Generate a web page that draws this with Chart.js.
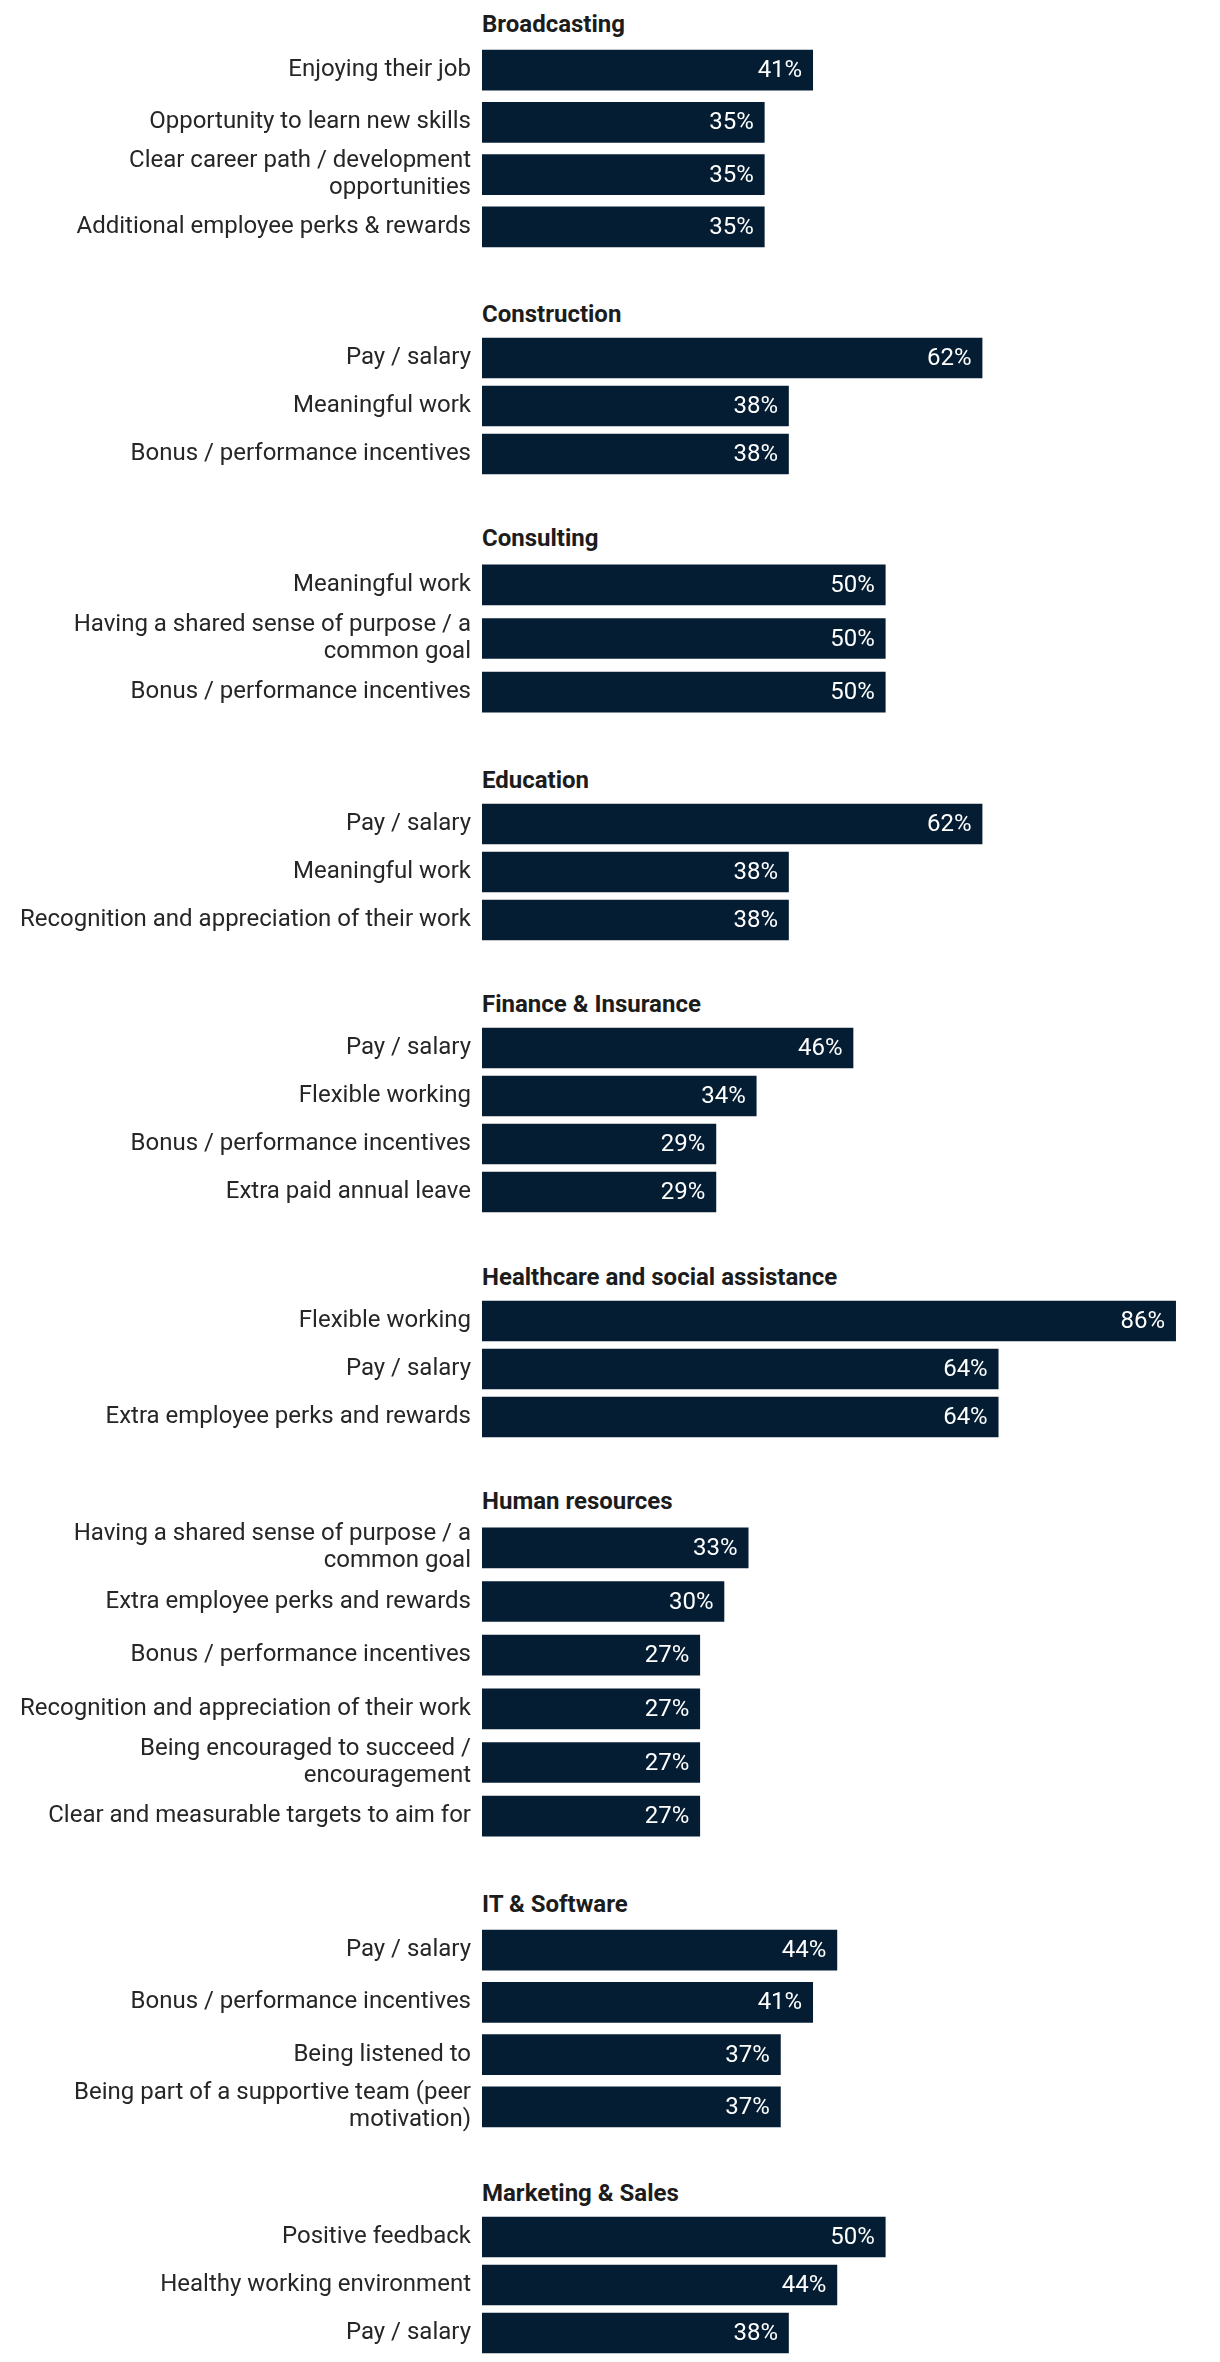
<!DOCTYPE html>
<html><head><meta charset="utf-8">
<script src="https://cdn.jsdelivr.net/npm/chart.js@4/dist/chart.umd.min.js"></script>
<style>
html,body{margin:0;padding:0;background:#fff;}
#wrap{width:1220px;padding-top:4px;}
.group{margin-bottom:40.5px;}
.head{box-sizing:border-box;height:40px;padding-top:8px;padding-left:482px;font-family:Roboto, sans-serif;font-weight:700;font-size:24px;line-height:24px;color:#1c1c1c;white-space:nowrap;overflow:visible;}
canvas{display:block;}
</style></head><body><div id="wrap"></div>
<script>
// ---- data ----
const industries = ["Broadcasting","Construction","Consulting","Education","Finance & Insurance","Healthcare and social assistance","Human resources","IT & Software","Marketing & Sales"];

const broadcastingLabels = ["Enjoying their job","Opportunity to learn new skills",["Clear career path / development","opportunities"],"Additional employee perks & rewards"];
const broadcastingValues = [41,35,35,35];

const constructionLabels = ["Pay / salary","Meaningful work","Bonus / performance incentives"];
const constructionValues = [62,38,38];

const consultingLabels = ["Meaningful work",["Having a shared sense of purpose / a","common goal"],"Bonus / performance incentives"];
const consultingValues = [50,50,50];

const educationLabels = ["Pay / salary","Meaningful work","Recognition and appreciation of their work"];
const educationValues = [62,38,38];

const financeLabels = ["Pay / salary","Flexible working","Bonus / performance incentives","Extra paid annual leave"];
const financeValues = [46,34,29,29];

const healthcareLabels = ["Flexible working","Pay / salary","Extra employee perks and rewards"];
const healthcareValues = [86,64,64];

const hrLabels = [["Having a shared sense of purpose / a","common goal"],"Extra employee perks and rewards","Bonus / performance incentives","Recognition and appreciation of their work",["Being encouraged to succeed /","encouragement"],"Clear and measurable targets to aim for"];
const hrValues = [33,30,27,27,27,27];

const itLabels = ["Pay / salary","Bonus / performance incentives","Being listened to",["Being part of a supportive team (peer","motivation)"]];
const itValues = [44,41,37,37];

const marketingLabels = ["Positive feedback","Healthy working environment","Pay / salary"];
const marketingValues = [50,44,38];

const groupLabels = [broadcastingLabels,constructionLabels,consultingLabels,educationLabels,financeLabels,healthcareLabels,hrLabels,itLabels,marketingLabels];
const groupValues = [broadcastingValues,constructionValues,consultingValues,educationValues,financeValues,healthcareValues,hrValues,itValues,marketingValues];

// ---- style ----
const BAR = '#041d33';
const FONT = 'Roboto';
const FS = 24;
const AXIS_W = 482;
const XMAX = 91.5;

const valueLabels = {
  id:'valueLabels',
  afterDatasetsDraw(chart){
    const ctx = chart.ctx;
    const ds = chart.data.datasets[0];
    const meta = chart.getDatasetMeta(0);
    ctx.save();
    ctx.font = FS + 'px ' + FONT;
    ctx.fillStyle = '#ffffff';
    ctx.textAlign = 'right';
    ctx.textBaseline = 'middle';
    meta.data.forEach((bar,i)=>{
      ctx.fillText(ds.data[i] + '%', bar.x - 10.5, bar.y + 1);
    });
    ctx.restore();
  }
};

function build(){
  const wrap = document.getElementById('wrap');
  industries.forEach((name,gi)=>{
    const g = document.createElement('div');
    g.className = 'group';
    if (gi === industries.length-1) g.style.marginBottom = '0';
    const h = document.createElement('div');
    h.className = 'head';
    h.textContent = name;
    g.appendChild(h);
    const labels = groupLabels[gi];
    const values = groupValues[gi];
    const height = labels.reduce((s,l)=>s + (Array.isArray(l) ? 65 : 48), 0);
    const c = document.createElement('canvas');
    c.width = 1220; c.height = height;
    c.style.width = '1220px'; c.style.height = height + 'px';
    g.appendChild(c);
    wrap.appendChild(g);
    new Chart(c, {
      type:'bar',
      data:{ labels: labels, datasets:[{ data: values, backgroundColor: BAR, borderWidth:0, barThickness:40 }] },
      options:{
        indexAxis:'y',
        responsive:false,
        maintainAspectRatio:false,
        devicePixelRatio:1,
        animation:false,
        layout:{ padding:0, autoPadding:false },
        plugins:{ legend:{display:false}, tooltip:{enabled:false} },
        scales:{
          x:{ display:false, min:0, max:XMAX },
          y:{
            grid:{ display:false, drawTicks:false },
            border:{ display:false },
            ticks:{ color:'#262626', font:{ family:FONT, size:FS, lineHeight:1.125 }, padding:11, autoSkip:false },
            afterFit(scale){ scale.width = AXIS_W; scale.paddingTop = 0; scale.paddingBottom = 0; }
          }
        }
      },
      plugins:[valueLabels]
    });
  });
}
(document.fonts && document.fonts.load ? Promise.all([document.fonts.load(FS+'px Roboto'), document.fonts.load('700 '+FS+'px Roboto')]) : Promise.resolve()).then(build, build);
</script>
</body></html>
